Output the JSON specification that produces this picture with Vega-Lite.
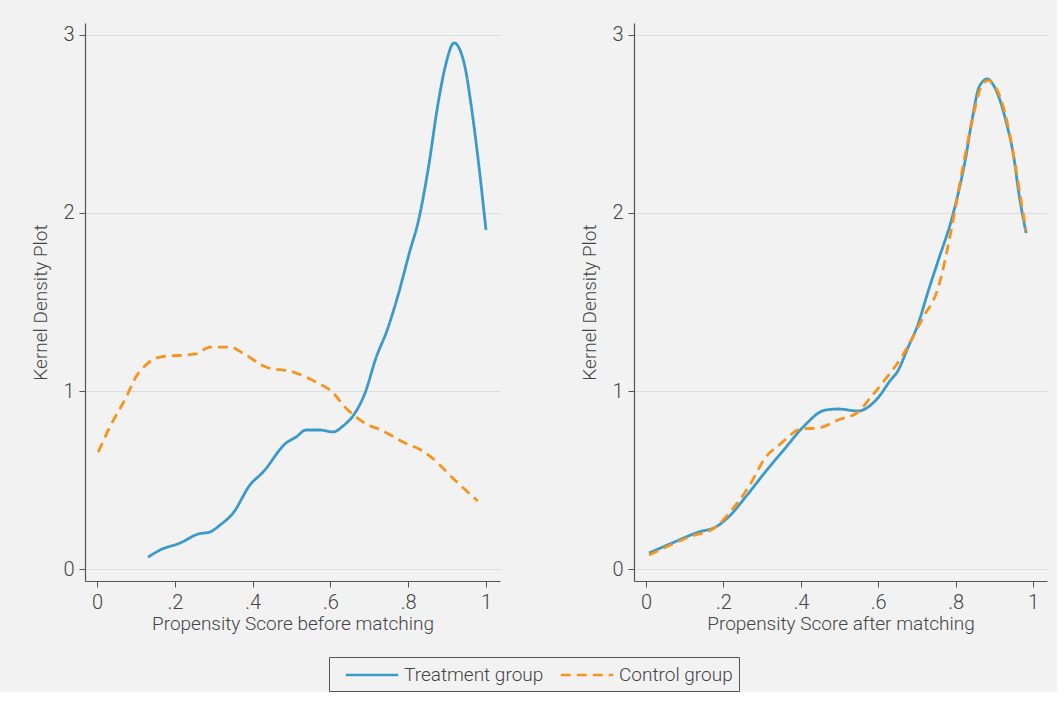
{
  "$schema": "https://vega.github.io/schema/vega-lite/v6.json",
  "background": "#f2f2f2",
  "padding": {"left": 31, "top": 23, "right": 10, "bottom": 0},
  "datasets": {
    "d": [
      {"panel": "before", "group": "Treatment group", "x": 0.131, "y": 0.067},
      {"panel": "before", "group": "Treatment group", "x": 0.162, "y": 0.107},
      {"panel": "before", "group": "Treatment group", "x": 0.213, "y": 0.146},
      {"panel": "before", "group": "Treatment group", "x": 0.260, "y": 0.197},
      {"panel": "before", "group": "Treatment group", "x": 0.290, "y": 0.208},
      {"panel": "before", "group": "Treatment group", "x": 0.316, "y": 0.247},
      {"panel": "before", "group": "Treatment group", "x": 0.350, "y": 0.315},
      {"panel": "before", "group": "Treatment group", "x": 0.393, "y": 0.472},
      {"panel": "before", "group": "Treatment group", "x": 0.427, "y": 0.545},
      {"panel": "before", "group": "Treatment group", "x": 0.486, "y": 0.708},
      {"panel": "before", "group": "Treatment group", "x": 0.512, "y": 0.742},
      {"panel": "before", "group": "Treatment group", "x": 0.537, "y": 0.781},
      {"panel": "before", "group": "Treatment group", "x": 0.573, "y": 0.781},
      {"panel": "before", "group": "Treatment group", "x": 0.607, "y": 0.770},
      {"panel": "before", "group": "Treatment group", "x": 0.632, "y": 0.803},
      {"panel": "before", "group": "Treatment group", "x": 0.663, "y": 0.876},
      {"panel": "before", "group": "Treatment group", "x": 0.689, "y": 0.989},
      {"panel": "before", "group": "Treatment group", "x": 0.717, "y": 1.185},
      {"panel": "before", "group": "Treatment group", "x": 0.746, "y": 1.343},
      {"panel": "before", "group": "Treatment group", "x": 0.774, "y": 1.539},
      {"panel": "before", "group": "Treatment group", "x": 0.805, "y": 1.792},
      {"panel": "before", "group": "Treatment group", "x": 0.825, "y": 1.944},
      {"panel": "before", "group": "Treatment group", "x": 0.851, "y": 2.242},
      {"panel": "before", "group": "Treatment group", "x": 0.877, "y": 2.618},
      {"panel": "before", "group": "Treatment group", "x": 0.895, "y": 2.820},
      {"panel": "before", "group": "Treatment group", "x": 0.918, "y": 2.955},
      {"panel": "before", "group": "Treatment group", "x": 0.946, "y": 2.820},
      {"panel": "before", "group": "Treatment group", "x": 0.961, "y": 2.618},
      {"panel": "before", "group": "Treatment group", "x": 0.979, "y": 2.315},
      {"panel": "before", "group": "Treatment group", "x": 1.0, "y": 1.904},
      {"panel": "before", "group": "Control group", "x": 0.003, "y": 0.657},
      {"panel": "before", "group": "Control group", "x": 0.033, "y": 0.798},
      {"panel": "before", "group": "Control group", "x": 0.075, "y": 0.966},
      {"panel": "before", "group": "Control group", "x": 0.100, "y": 1.079},
      {"panel": "before", "group": "Control group", "x": 0.131, "y": 1.157},
      {"panel": "before", "group": "Control group", "x": 0.162, "y": 1.191},
      {"panel": "before", "group": "Control group", "x": 0.254, "y": 1.208},
      {"panel": "before", "group": "Control group", "x": 0.290, "y": 1.247},
      {"panel": "before", "group": "Control group", "x": 0.342, "y": 1.247},
      {"panel": "before", "group": "Control group", "x": 0.375, "y": 1.213},
      {"panel": "before", "group": "Control group", "x": 0.434, "y": 1.135},
      {"panel": "before", "group": "Control group", "x": 0.504, "y": 1.107},
      {"panel": "before", "group": "Control group", "x": 0.568, "y": 1.045},
      {"panel": "before", "group": "Control group", "x": 0.599, "y": 1.006},
      {"panel": "before", "group": "Control group", "x": 0.645, "y": 0.893},
      {"panel": "before", "group": "Control group", "x": 0.692, "y": 0.815},
      {"panel": "before", "group": "Control group", "x": 0.730, "y": 0.781},
      {"panel": "before", "group": "Control group", "x": 0.792, "y": 0.708},
      {"panel": "before", "group": "Control group", "x": 0.833, "y": 0.669},
      {"panel": "before", "group": "Control group", "x": 0.859, "y": 0.629},
      {"panel": "before", "group": "Control group", "x": 0.920, "y": 0.500},
      {"panel": "before", "group": "Control group", "x": 0.979, "y": 0.382},
      {"panel": "after", "group": "Treatment group", "x": 0.008, "y": 0.090},
      {"panel": "after", "group": "Treatment group", "x": 0.067, "y": 0.146},
      {"panel": "after", "group": "Treatment group", "x": 0.136, "y": 0.208},
      {"panel": "after", "group": "Treatment group", "x": 0.180, "y": 0.236},
      {"panel": "after", "group": "Treatment group", "x": 0.213, "y": 0.292},
      {"panel": "after", "group": "Treatment group", "x": 0.257, "y": 0.404},
      {"panel": "after", "group": "Treatment group", "x": 0.308, "y": 0.545},
      {"panel": "after", "group": "Treatment group", "x": 0.360, "y": 0.680},
      {"panel": "after", "group": "Treatment group", "x": 0.406, "y": 0.798},
      {"panel": "after", "group": "Treatment group", "x": 0.463, "y": 0.893},
      {"panel": "after", "group": "Treatment group", "x": 0.496, "y": 0.899},
      {"panel": "after", "group": "Treatment group", "x": 0.548, "y": 0.888},
      {"panel": "after", "group": "Treatment group", "x": 0.599, "y": 0.961},
      {"panel": "after", "group": "Treatment group", "x": 0.632, "y": 1.062},
      {"panel": "after", "group": "Treatment group", "x": 0.650, "y": 1.110},
      {"panel": "after", "group": "Treatment group", "x": 0.676, "y": 1.240},
      {"panel": "after", "group": "Treatment group", "x": 0.702, "y": 1.370},
      {"panel": "after", "group": "Treatment group", "x": 0.730, "y": 1.567},
      {"panel": "after", "group": "Treatment group", "x": 0.753, "y": 1.720},
      {"panel": "after", "group": "Treatment group", "x": 0.794, "y": 2.000},
      {"panel": "after", "group": "Treatment group", "x": 0.825, "y": 2.300},
      {"panel": "after", "group": "Treatment group", "x": 0.843, "y": 2.530},
      {"panel": "after", "group": "Treatment group", "x": 0.861, "y": 2.710},
      {"panel": "after", "group": "Treatment group", "x": 0.882, "y": 2.753},
      {"panel": "after", "group": "Treatment group", "x": 0.897, "y": 2.720},
      {"panel": "after", "group": "Treatment group", "x": 0.915, "y": 2.630},
      {"panel": "after", "group": "Treatment group", "x": 0.933, "y": 2.490},
      {"panel": "after", "group": "Treatment group", "x": 0.949, "y": 2.330},
      {"panel": "after", "group": "Treatment group", "x": 0.964, "y": 2.100},
      {"panel": "after", "group": "Treatment group", "x": 0.982, "y": 1.888},
      {"panel": "after", "group": "Control group", "x": 0.008, "y": 0.079},
      {"panel": "after", "group": "Control group", "x": 0.111, "y": 0.180},
      {"panel": "after", "group": "Control group", "x": 0.180, "y": 0.236},
      {"panel": "after", "group": "Control group", "x": 0.221, "y": 0.331},
      {"panel": "after", "group": "Control group", "x": 0.265, "y": 0.461},
      {"panel": "after", "group": "Control group", "x": 0.308, "y": 0.624},
      {"panel": "after", "group": "Control group", "x": 0.350, "y": 0.708},
      {"panel": "after", "group": "Control group", "x": 0.401, "y": 0.787},
      {"panel": "after", "group": "Control group", "x": 0.445, "y": 0.792},
      {"panel": "after", "group": "Control group", "x": 0.496, "y": 0.837},
      {"panel": "after", "group": "Control group", "x": 0.548, "y": 0.882},
      {"panel": "after", "group": "Control group", "x": 0.581, "y": 0.966},
      {"panel": "after", "group": "Control group", "x": 0.617, "y": 1.062},
      {"panel": "after", "group": "Control group", "x": 0.663, "y": 1.200},
      {"panel": "after", "group": "Control group", "x": 0.689, "y": 1.300},
      {"panel": "after", "group": "Control group", "x": 0.715, "y": 1.410},
      {"panel": "after", "group": "Control group", "x": 0.753, "y": 1.567},
      {"panel": "after", "group": "Control group", "x": 0.797, "y": 2.000},
      {"panel": "after", "group": "Control group", "x": 0.817, "y": 2.240},
      {"panel": "after", "group": "Control group", "x": 0.843, "y": 2.520},
      {"panel": "after", "group": "Control group", "x": 0.864, "y": 2.700},
      {"panel": "after", "group": "Control group", "x": 0.884, "y": 2.745},
      {"panel": "after", "group": "Control group", "x": 0.902, "y": 2.710},
      {"panel": "after", "group": "Control group", "x": 0.920, "y": 2.620},
      {"panel": "after", "group": "Control group", "x": 0.938, "y": 2.460},
      {"panel": "after", "group": "Control group", "x": 0.954, "y": 2.270},
      {"panel": "after", "group": "Control group", "x": 0.969, "y": 2.070},
      {"panel": "after", "group": "Control group", "x": 0.982, "y": 1.900}
    ]
  },
  "data": {"name": "d"},
  "spacing": 80,
  "hconcat": [
    {
      "width": 415,
      "height": 558,
      "transform": [{"filter": "datum.panel === 'before'"}],
      "mark": {"type": "line", "strokeWidth": 2.8, "interpolate": "monotone"},
      "encoding": {
        "x": {"field": "x", "type": "quantitative", "scale": {"domain": [-0.031, 1.036], "nice": false, "zero": false},
          "axis": {"title": "Propensity Score before matching", "values": [0, 0.2, 0.4, 0.6, 0.8, 1], "labelExpr": "datum.value == 0 ? '0' : datum.value == 1 ? '1' : replace(format(datum.value, '.1f'), '0.', '.')", "grid": false}},
        "y": {"field": "y", "type": "quantitative", "scale": {"domain": [-0.067, 3.067], "nice": false, "zero": false},
          "axis": {"title": "Kernel Density Plot", "values": [0, 1, 2, 3], "grid": true}},
        "color": {"field": "group", "type": "nominal", "sort": ["Treatment group", "Control group"], "scale": {"domain": ["Treatment group", "Control group"], "range": ["#3a9ac9", "#f7941d"]},
          "legend": {"title": null, "orient": "none", "legendX": 244, "legendY": 634, "direction": "horizontal"}},
        "strokeDash": {"field": "group", "type": "nominal", "sort": ["Treatment group", "Control group"], "scale": {"domain": ["Treatment group", "Control group"], "range": [[1, 0], [10, 6]]},
          "legend": {"title": null, "orient": "none", "legendX": 244, "legendY": 634, "direction": "horizontal"}},
        "detail": {"field": "group"}
      }
    },
    {
      "width": 413,
      "height": 558,
      "transform": [{"filter": "datum.panel === 'after'"}],
      "mark": {"type": "line", "strokeWidth": 2.8, "interpolate": "monotone"},
      "encoding": {
        "x": {"field": "x", "type": "quantitative", "scale": {"domain": [-0.031, 1.036], "nice": false, "zero": false},
          "axis": {"title": "Propensity Score after matching", "values": [0, 0.2, 0.4, 0.6, 0.8, 1], "labelExpr": "datum.value == 0 ? '0' : datum.value == 1 ? '1' : replace(format(datum.value, '.1f'), '0.', '.')", "grid": false}},
        "y": {"field": "y", "type": "quantitative", "scale": {"domain": [-0.067, 3.067], "nice": false, "zero": false},
          "axis": {"title": "Kernel Density Plot", "values": [0, 1, 2, 3], "grid": true}},
        "color": {"field": "group", "type": "nominal", "sort": ["Treatment group", "Control group"], "scale": {"domain": ["Treatment group", "Control group"], "range": ["#3a9ac9", "#f7941d"]},
          "legend": {"title": null, "orient": "none", "legendX": 244, "legendY": 634, "direction": "horizontal"}},
        "strokeDash": {"field": "group", "type": "nominal", "sort": ["Treatment group", "Control group"], "scale": {"domain": ["Treatment group", "Control group"], "range": [[1, 0], [10, 6]]},
          "legend": {"title": null, "orient": "none", "legendX": 244, "legendY": 634, "direction": "horizontal"}},
        "detail": {"field": "group"}
      }
    }
  ],
  "resolve": {"scale": {"color": "shared", "strokeDash": "shared"}},
  "config": {
    "font": "Roboto",
    "view": {"stroke": null},
    "axis": {
      "domainColor": "#555555",
      "domainWidth": 1.2,
      "tickColor": "#555555",
      "tickSize": 6,
      "labelColor": "#444444",
      "titleColor": "#444444",
      "labelFontSize": 20,
      "titleFontSize": 19,
      "labelFontWeight": 300,
      "titleFontWeight": 300,
      "labelFont": "Roboto",
      "titleFont": "Roboto",
      "gridColor": "#dddddd",
      "gridWidth": 1
    },
    "axisX": {"titlePadding": 2, "labelPadding": 5},
    "axisY": {"titlePadding": 12, "labelPadding": 5},
    "legend": {
      "symbolType": "M-2.5,0H2.5",
      "symbolSize": 441,
      "symbolStrokeWidth": 2.6,
      "labelFontSize": 19,
      "labelFontWeight": 300,
      "labelColor": "#444444",
      "labelFont": "Roboto",
      "labelOffset": 20,
      "strokeColor": "#555555",
      "padding": 6,
      "symbolOffset": 25,
      "columnPadding": 6
    }
  }
}
